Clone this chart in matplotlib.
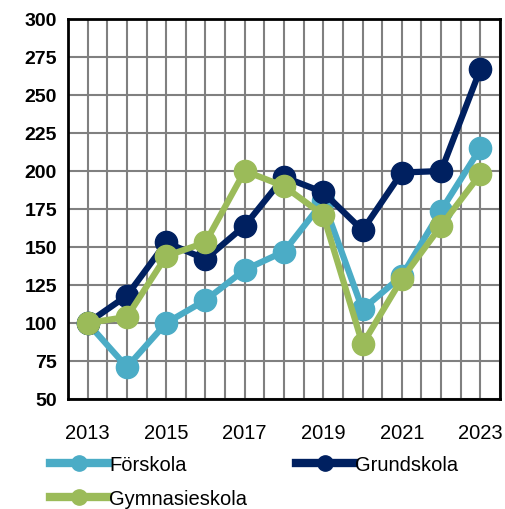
import matplotlib
matplotlib.use("Agg")
import matplotlib.pyplot as plt
from matplotlib.ticker import MultipleLocator
from matplotlib.lines import Line2D

years = [2013, 2014, 2015, 2016, 2017, 2018, 2019, 2020, 2021, 2022, 2023]
forskola = [100, 71, 100, 115, 135, 147, 180, 109, 131, 174, 215]
grundskola = [100, 118, 153, 142, 164, 196, 186, 161, 199, 200, 267]
gymnasieskola = [100, 104, 144, 153, 200, 190, 171, 86, 129, 164, 198]
series_names = ["Förskola", "Grundskola", "Gymnasieskola"]
colors = ["#4BACC6", "#002060", "#9BBB59"]
xtick_labels = ["2013", "2015", "2017", "2019", "2021", "2023"]

plt.rcParams['font.family'] = ['Liberation Sans', 'DejaVu Sans']

fig = plt.figure(figsize=(5.05, 5.10), dpi=100)
ax = fig.add_axes([68/505, 1-400/510, (500-68)/505, 380/510])

proxies = []
for vals, name, c in zip([forskola, grundskola, gymnasieskola], series_names, colors):
    ax.plot(years, vals, color=c, lw=4.5, marker='o', ms=16, label=name, zorder=3)
    proxies.append(Line2D([], [], color=c, lw=6, marker='o', ms=11, label=name))

ax.set_xlim(2012.5, 2023.5)
ax.set_ylim(50, 300)
ax.yaxis.set_major_locator(MultipleLocator(25))
ax.xaxis.set_minor_locator(MultipleLocator(0.5))
ax.set_xticks([int(t) for t in xtick_labels])
ax.set_xticklabels(xtick_labels, fontsize=14.5)
ax.grid(True, which='both', axis='x', color='#808080', lw=1.5, zorder=0)
ax.grid(True, which='major', axis='y', color='#808080', lw=1.5, zorder=0)
ax.tick_params(which='both', length=0)
ax.tick_params(axis='x', pad=17)
ax.tick_params(axis='y', pad=8)
for lab in ax.get_yticklabels():
    lab.set_fontweight('bold')
    lab.set_fontsize(14)
for s in ax.spines.values():
    s.set_linewidth(2)
    s.set_color('black')

# order so that rows read: Förskola, Grundskola / Gymnasieskola
order = [proxies[0], proxies[2], proxies[1]]
fig.legend(handles=order, loc='upper left', bbox_to_anchor=(50/505, 1-456/510),
           ncol=2, frameon=False, fontsize=14.5, handlelength=2.9, handletextpad=0.05,
           columnspacing=2.4, labelspacing=0.75, borderaxespad=0, borderpad=0)

fig.savefig("out.png", dpi=100)
